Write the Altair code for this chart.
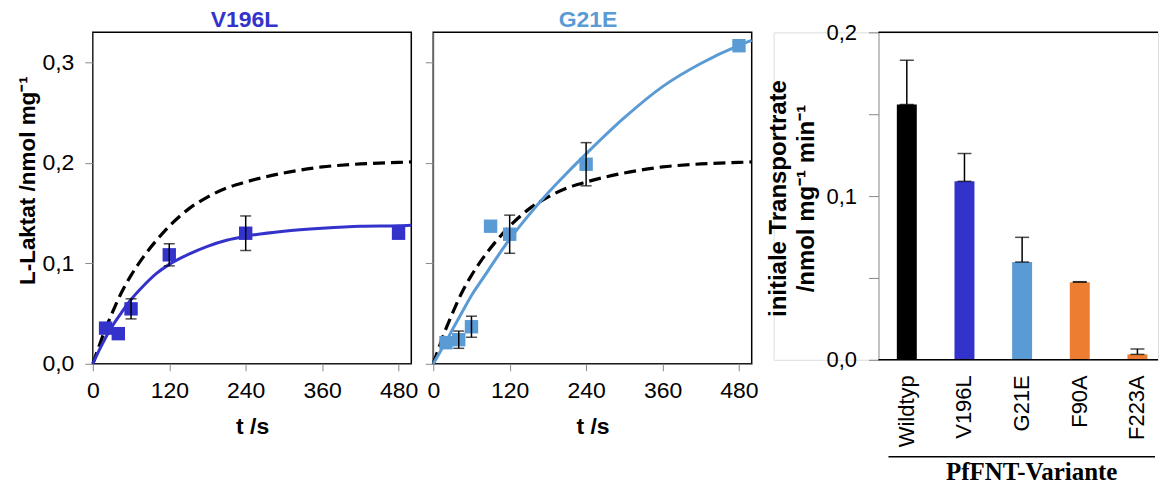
import altair as alt
import pandas as pd

# ---------------- data ----------------
# fitted curves (time in s, L-lactate in nmol/mg)
t_fit = [0, 10, 20, 30, 45, 60, 80, 100, 120, 150, 180, 210, 240, 300, 360, 420, 480, 500]
wt_fit = [0, 0.018, 0.035, 0.050, 0.071, 0.088, 0.107, 0.123, 0.137, 0.154, 0.166, 0.175,
          0.181, 0.190, 0.196, 0.199, 0.2005, 0.201]
v196l_fit = [0, 0.0136, 0.026, 0.037, 0.051, 0.064, 0.078, 0.090, 0.099, 0.109, 0.117, 0.123,
             0.127, 0.132, 0.135, 0.137, 0.1375, 0.138]
g21e_fit = [0, 0.011, 0.022, 0.034, 0.051, 0.068, 0.087, 0.106, 0.124, 0.148, 0.170, 0.190,
            0.209, 0.245, 0.276, 0.299, 0.317, 0.322]

# measured points
v196l_t = [20, 40, 60, 120, 240, 480]
v196l_y = [0.0355, 0.030, 0.0547, 0.1085, 0.130, 0.130]
v196l_err = [None, None, 0.0100, 0.0110, 0.0172, None]

g21e_t = [20, 40, 60, 90, 120, 240, 480]
g21e_y = [0.021, 0.024, 0.0369, 0.137, 0.129, 0.1987, 0.3167]
g21e_err = [None, 0.0086, 0.0105, None, 0.019, 0.0215, None]

# initial transport rates
variants = ["Wildtyp", "V196L", "G21E", "F90A", "F223A"]
rates = [0.156, 0.109, 0.0597, 0.0474, 0.0033]
rate_err = [0.027, 0.017, 0.0151, 0.0003, 0.0033]
bar_colors = ["#000000", "#3333cc", "#5b9bd5", "#ed7d31", "#ed7d31"]

BLUE = "#3333cc"
LIGHT = "#5b9bd5"
FONT = "Liberation Sans"

# ---------------- tables ----------------
fit_df = pd.DataFrame({"t": t_fit, "wt": wt_fit, "v196l": v196l_fit, "g21e": g21e_fit})


def pts_df(t, y, e):
    rows = []
    for ti, yi, ei in zip(t, y, e):
        rows.append({"t": ti, "y": yi,
                     "lo": None if ei is None else yi - ei,
                     "hi": None if ei is None else yi + ei})
    return pd.DataFrame(rows)


v_df = pts_df(v196l_t, v196l_y, v196l_err)
g_df = pts_df(g21e_t, g21e_y, g21e_err)
bar_df = pd.DataFrame({"v": variants, "rate": rates,
                       "hi": [r + e for r, e in zip(rates, rate_err)]})
one = alt.Chart(pd.DataFrame({"a": [0]}))

PW, PH = 319, 332
comma = "replace(format(datum.value, '.1f'), '.', ',')"


def x_axis():
    return alt.Axis(values=[0, 120, 240, 360, 480], labelFontSize=23, labelFont=FONT,
                    tickSize=7, labelPadding=9, title="t /s", titleFontSize=23,
                    titleFont=FONT, titleFontWeight="bold", titleY=63,
                    titleBaseline="middle", labelFlush=False, grid=False)


def y_axis(labels):
    if labels:
        return alt.Axis(values=[0, 0.1, 0.2, 0.3], labelExpr=comma, labelFontSize=23,
                        labelFont=FONT, tickSize=8, labelPadding=11, grid=False,
                        title="L-Laktat /nmol mg⁻¹", titleFontSize=22.5, titleFont=FONT,
                        titleFontWeight="bold", titleX=-65, titleY=148,
                        titleAlign="center", titleBaseline="middle", titleAngle=270)
    return alt.Axis(values=[0, 0.1, 0.2, 0.3], labels=False, tickSize=8, title=None,
                    grid=False)


def panel(title, color, df, fit_col, labels, title_x):
    xs = alt.Scale(domain=[0, 500], nice=False)
    ys = alt.Scale(domain=[0, 0.33], nice=False)
    X = lambda f: alt.X(f"{f}:Q", scale=xs, axis=x_axis())
    Y = lambda f: alt.Y(f"{f}:Q", scale=ys, axis=y_axis(labels))
    base_fit = alt.Chart(fit_df)
    dashed = base_fit.mark_line(color="black", strokeWidth=3.2, strokeDash=[12, 6],
                                interpolate="monotone").encode(x=X("t"), y=Y("wt"))
    curve = base_fit.mark_line(color=color, strokeWidth=3,
                               interpolate="monotone").encode(x=X("t"), y=Y(fit_col))
    eb_data = alt.Chart(df).transform_filter("isValid(datum.hi)")
    rule = eb_data.mark_rule(color="black", strokeWidth=1.5).encode(
        x=X("t"), y=Y("lo"), y2="hi:Q")
    cap_lo = eb_data.mark_tick(color="black", orient="horizontal", size=11,
                               thickness=1.5).encode(x=X("t"), y=Y("lo"))
    cap_hi = eb_data.mark_tick(color="black", orient="horizontal", size=11,
                               thickness=1.5).encode(x=X("t"), y=Y("hi"))
    pts = alt.Chart(df).mark_square(color=color, size=180, opacity=1).encode(
        x=X("t"), y=Y("y"))
    head = one.mark_text(text=title, color=color, fontSize=23, font=FONT,
                         fontWeight="bold", align="center", baseline="alphabetic").encode(
        x=alt.value(title_x), y=alt.value(-5))
    return alt.layer(dashed, curve, pts, rule, cap_lo, cap_hi, head).properties(
        width=PW, height=PH,
        view=alt.ViewBackground(stroke="black", strokeWidth=1.5))


p1 = panel("V196L", BLUE, v_df, "v196l", True, 152)
p2 = panel("G21E", LIGHT, g_df, "g21e", False, 155)

# ---------------- bar panel ----------------
SHIFT = 105            # empty room left of the bar plot (for its y axis)
BW, BH = 385, 328
bx = alt.X("v:N", sort=variants,
           scale=alt.Scale(domain=variants, range=[SHIFT, BW], paddingInner=0.6537,
                           paddingOuter=0.251, align=0.634),
           axis=alt.Axis(labelAngle=270, labelFontSize=22, labelFont=FONT, ticks=False,
                         tickSize=0, labelPadding=15, domain=False, grid=False,
                         title="PfFNT-Variante",
                         titleFont="Liberation Serif", titleFontSize=25,
                         titleFontWeight="bold", titleY=125, titleX=SHIFT + 153,
                         titleBaseline="bottom", titleAlign="center"))
by_scale = alt.Scale(domain=[0, 0.2], nice=False)
by_axis = alt.Axis(values=[0, 0.05, 0.1, 0.15, 0.2], offset=-SHIFT, grid=False,
                   labelExpr="abs(datum.value * 10 - round(datum.value * 10)) < 0.001 ? "
                             + comma + " : ''",
                   labelFontSize=22, labelFont=FONT, tickSize=10, labelPadding=12,
                   title=["initiale Transportrate", "/nmol mg⁻¹ min⁻¹"],
                   titleFontSize=24, titleFont=FONT, titleFontWeight="bold",
                   titleX=-112, titleY=166, titleAlign="center", titleBaseline="top",
                   titleLineHeight=28, titleAngle=270)

bar_base = alt.Chart(bar_df)
bars = bar_base.mark_bar(size=20).encode(
    x=bx, y=alt.Y("rate:Q", scale=by_scale, axis=by_axis),
    color=alt.Color("v:N", scale=alt.Scale(domain=variants, range=bar_colors), legend=None))
err_rule = bar_base.mark_rule(color="black", strokeWidth=1.5).encode(
    x=bx, y=alt.Y("rate:Q", scale=by_scale, axis=by_axis), y2="hi:Q")
err_cap = bar_base.mark_tick(color="black", orient="horizontal", size=14,
                             thickness=1.5).encode(
    x=bx, y=alt.Y("hi:Q", scale=by_scale, axis=by_axis))
err_cap0 = bar_base.mark_tick(color="black", orient="horizontal", size=14,
                              thickness=1.5).encode(
    x=bx, y=alt.Y("rate:Q", scale=by_scale, axis=by_axis))
top_line = one.mark_rule(color="black", strokeWidth=1.5).encode(
    x=alt.value(SHIFT), x2=alt.value(BW), y=alt.value(0))
bottom_line = one.mark_rule(color="black", strokeWidth=1.5).encode(
    x=alt.value(SHIFT), x2=alt.value(BW), y=alt.value(BH))
group_line = one.mark_rule(color="black", strokeWidth=1.5).encode(
    x=alt.value(SHIFT + 10), x2=alt.value(SHIFT + 277), y=alt.value(BH + 97))

p3 = alt.layer(err_rule, bars, err_cap, err_cap0, top_line, bottom_line,
               group_line).properties(width=BW, height=BH)

chart = alt.hconcat(p1, p2, p3, spacing=22, bounds="flush").properties(
    padding={"left": 16, "top": 8, "right": 0, "bottom": 0}
).configure_view(stroke=None).configure_axis(
    grid=False, domainColor="black", tickColor="black", labelColor="black",
    titleColor="black", domainWidth=1.5, tickWidth=1.5
).configure(background="white")

chart.save("out.html", embed_options={"renderer": "svg", "actions": False})
